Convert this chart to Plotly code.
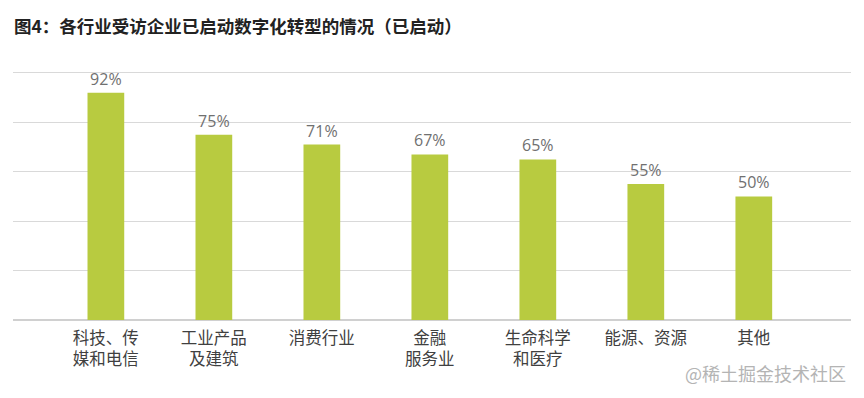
import plotly.graph_objects as go

categories = ["科技、传<br>媒和电信", "工业产品<br>及建筑", "消费行业", "金融<br>服务业", "生命科学<br>和医疗", "能源、资源", "其他"]
values = [92, 75, 71, 67, 65, 55, 50]
labels = [f"{v}%" for v in values]

fig = go.Figure()
fig.add_trace(go.Bar(
    x=list(range(len(categories))),
    y=values,
    text=labels,
    textposition="outside",
    textfont=dict(family="Open Sans, Noto Sans", size=16, color="#707070"),
    marker=dict(color="#b8cb40", line=dict(width=0)),
    width=0.34,
    cliponaxis=False,
))

px_per_unit = 2.473
ymax = 104
fig.update_layout(
    width=864, height=398,
    margin=dict(l=13, r=13, t=round(320 - ymax * px_per_unit), b=78),
    paper_bgcolor="white", plot_bgcolor="white",
    showlegend=False,
    title=dict(
        text="<b>图4：各行业受访企业已启动数字化转型的情况（已启动）</b>",
        x=14/864, xref="container", xanchor="left",
        y=1-27/398, yref="container", yanchor="middle",
        font=dict(family="Noto Sans CJK SC", size=17.5, color="#222222"),
    ),
    xaxis=dict(
        tickmode="array",
        tickvals=list(range(len(categories))),
        ticktext=categories,
        range=[-0.86, 6.9],
        showgrid=False, zeroline=False, showline=False,
        ticks="", ticklabelstandoff=6,
        tickfont=dict(family="Noto Sans CJK SC", size=16.5, color="#404040"),
        fixedrange=True,
    ),
    yaxis=dict(
        range=[0, ymax],
        tickvals=[0, 20, 40, 60, 80, 100],
        showticklabels=False,
        showgrid=True, gridcolor="#d9d9d9", gridwidth=1,
        zeroline=True, zerolinecolor="#d0d0d0", zerolinewidth=1.5,
        showline=False,
    ),
    annotations=[dict(
        text="@稀土掘金技术社区",
        xref="paper", yref="paper",
        x=1 + (848-851)/838, y=-(373-320)/(ymax*px_per_unit),
        xanchor="right", yanchor="middle",
        showarrow=False,
        font=dict(family="Noto Sans CJK SC", size=18, color="#b4b4b4"),
    )],
)

fig.write_html("out.html")
